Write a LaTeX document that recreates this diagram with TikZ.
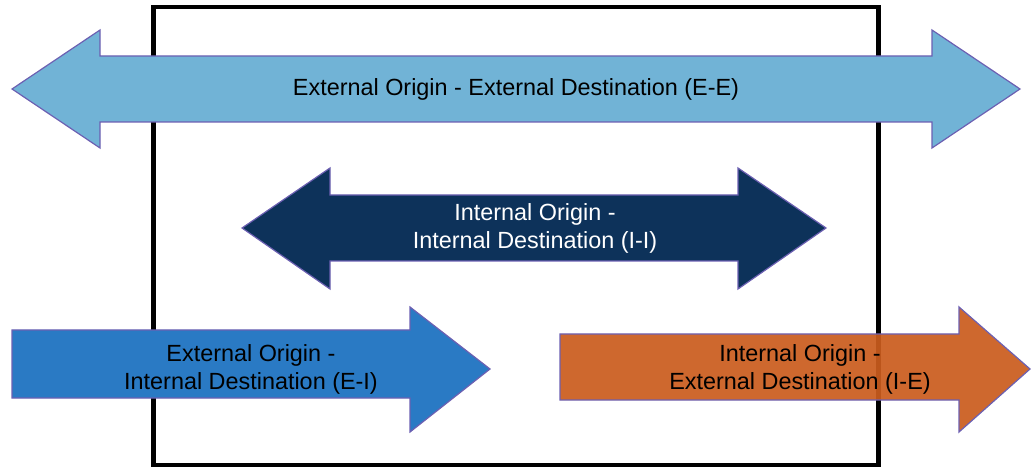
\documentclass[tikz,border=0pt]{standalone}
\usepackage{fontspec}
\setmainfont{Liberation Sans}
\usepackage{tikz}

\definecolor{eeblue}{RGB}{113,179,214}
\definecolor{iinavy}{RGB}{13,50,90}
\definecolor{eiblue}{RGB}{42,122,196}
\definecolor{ieorange}{RGB}{202,92,30}
\definecolor{rimline}{RGB}{108,96,178}

\tikzset{
    flow/.style={draw=rimline,line width=0.6pt,line join=miter},
    flowtext/.style={align=center,inner sep=0pt,
        font=\fontsize{11.7}{14}\selectfont}
}

\begin{document}
\begin{tikzpicture}[x=0.5pt,y=-0.5pt,line cap=round,line join=round]
\useasboundingbox (0,0) rectangle (1031,469);

% the area
\draw[line width=2.3pt,line join=miter] (153.5,7) rectangle (878.5,465);

% E-E
\filldraw[flow,fill=eeblue] (12,89)--(100,30)--(100,56)--(932,56)--(932,30)
    --(1020,89)--(932,148)--(932,122)--(100,122)--(100,148)--cycle;
% I-I
\filldraw[flow,fill=iinavy] (242,228)--(330,168)--(330,195)--(738,195)
    --(738,168)--(826,228)--(738,289)--(738,261)--(330,261)--(330,289)--cycle;
% E-I
\filldraw[flow,fill=eiblue] (12,330)--(410,330)--(410,307)--(490,369)
    --(410,432)--(410,398)--(12,398)--cycle;
% I-E
\filldraw[flow,fill=ieorange,fill opacity=0.93] (560,334)--(959,334)
    --(959,307)--(1030,369)--(959,432)--(959,400)--(560,400)--cycle;

\node[flowtext] (ee) at (516,89) {External Origin - External Destination (E-E)};
\node[flowtext,text=white] (ii) at (535,228) {Internal Origin -\\Internal Destination (I-I)};
\node[flowtext] (ei) at (251,369) {External Origin -\\Internal Destination (E-I)};
\node[flowtext] (ie) at (800,369) {Internal Origin -\\External Destination (I-E)};
\end{tikzpicture}
\end{document}
